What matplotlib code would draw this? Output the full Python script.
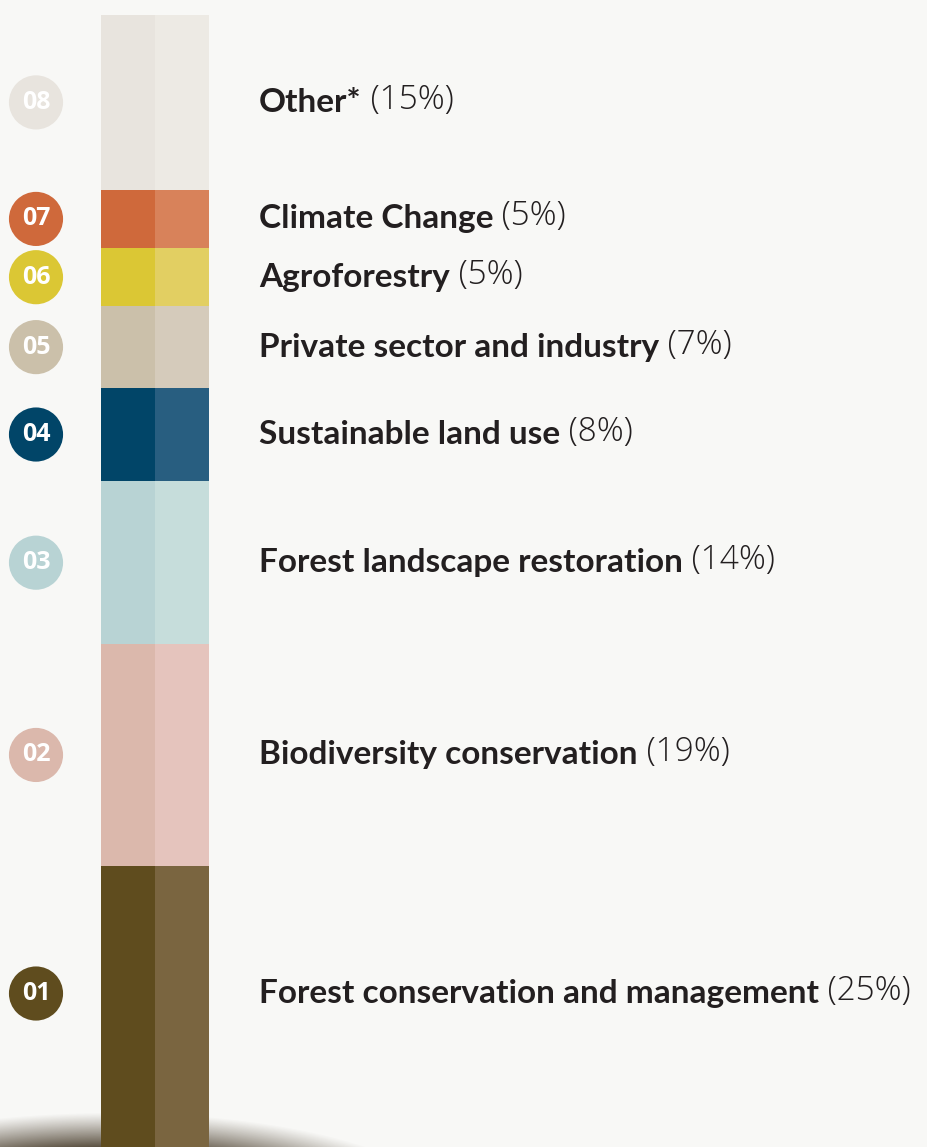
"""
Stacked share bar: thematic focus areas with numbered markers.
"""

import numpy as np
import matplotlib.pyplot as plt

# ---------------------------------------------------------------------------
# Data (bottom to top)
# ---------------------------------------------------------------------------

numbers = ['01', '02', '03', '04', '05', '06', '07', '08']
names = [
    'Forest conservation and management',
    'Biodiversity conservation',
    'Forest landscape restoration',
    'Sustainable land use',
    'Private sector and industry',
    'Agroforestry',
    'Climate Change',
    'Other*',
]
shares = [25, 19, 14, 8, 7, 5, 5, 15]

colors_dark = ['#5f4c1e', '#dbb8ac', '#b8d3d4', '#014568',
               '#cbc0aa', '#dbc734', '#cf693b', '#e8e4de']
colors_light = ['#7a6540', '#e5c4bd', '#c6dddb', '#285e80',
                '#d5cbbb', '#e2cf62', '#d8825a', '#edeae4']

BG = '#f8f8f6'
W_PX, H_PX = 928, 1147
DPI = 100

# ---------------------------------------------------------------------------
# Figure
# ---------------------------------------------------------------------------

fig = plt.figure(figsize=(W_PX / DPI, H_PX / DPI), dpi=DPI, facecolor=BG)

# background axes in pixel coordinates, for the soft ground shadow
ax_bg = fig.add_axes([0, 0, 1, 1])
ax_bg.set_xlim(0, W_PX)
ax_bg.set_ylim(H_PX, 0)
ax_bg.axis('off')
ax_bg.set_facecolor(BG)

gx, gy = np.meshgrid(np.arange(W_PX), np.arange(1060, H_PX))
r = np.sqrt(((gx - 110) / 340.0) ** 2 + ((gy - 1212) / 100.0) ** 2)
alpha = 0.95 * np.clip((1 - r) / 0.38, 0, 1) ** 1.1
shadow = np.zeros(gx.shape + (4,))
shadow[..., 0] = 0x40 / 255
shadow[..., 1] = 0x34 / 255
shadow[..., 2] = 0x22 / 255
shadow[..., 3] = alpha
ax_bg.imshow(shadow, extent=(0, W_PX, H_PX, 1060), aspect='auto',
             interpolation='bilinear', zorder=1)

# main axes: x in pixels, y in percent
ax = fig.add_axes([0, 0, 1, 1])
ax.patch.set_alpha(0)
ax.axis('off')
ax.set_xlim(0, W_PX)
total = sum(shares)
px_per_pct = (H_PX - 15 + 10) / total
y_top = total + 15 / px_per_pct
y_bot = total - (H_PX - 15) / px_per_pct
ax.set_ylim(y_bot, y_top)

bottoms = np.concatenate([[0], np.cumsum(shares)[:-1]])
ax.bar(128, shares, width=54, bottom=bottoms, color=colors_dark, zorder=3)
ax.bar(182, shares, width=54, bottom=bottoms, color=colors_light, zorder=3)

mids = bottoms + np.array(shares) / 2
mids[0] = (max(bottoms[0], y_bot) + bottoms[1]) / 2 + 1.1

ax.scatter(np.full(len(numbers), 36), mids, s=1520, c=colors_dark,
           linewidths=0, zorder=4)

for num, y in zip(numbers, mids):
    ax.text(36, y, num, ha='center', va='center', color='white',
            fontsize=18, fontweight='bold', family='Open Sans', zorder=5)

for name, share, y in zip(names, shares, mids):
    t = ax.text(259, y, name, ha='left', va='center', color='#231f20',
                fontsize=24, fontweight='bold', family='Lato', zorder=5)
    ax.annotate(f' ({share}%)', xy=(1, 0), xycoords=t, ha='left', va='bottom',
                color='#231f20', fontsize=24, fontweight='light',
                family='Open Sans', zorder=5)

fig.savefig('out.png', dpi=DPI, facecolor=BG)
